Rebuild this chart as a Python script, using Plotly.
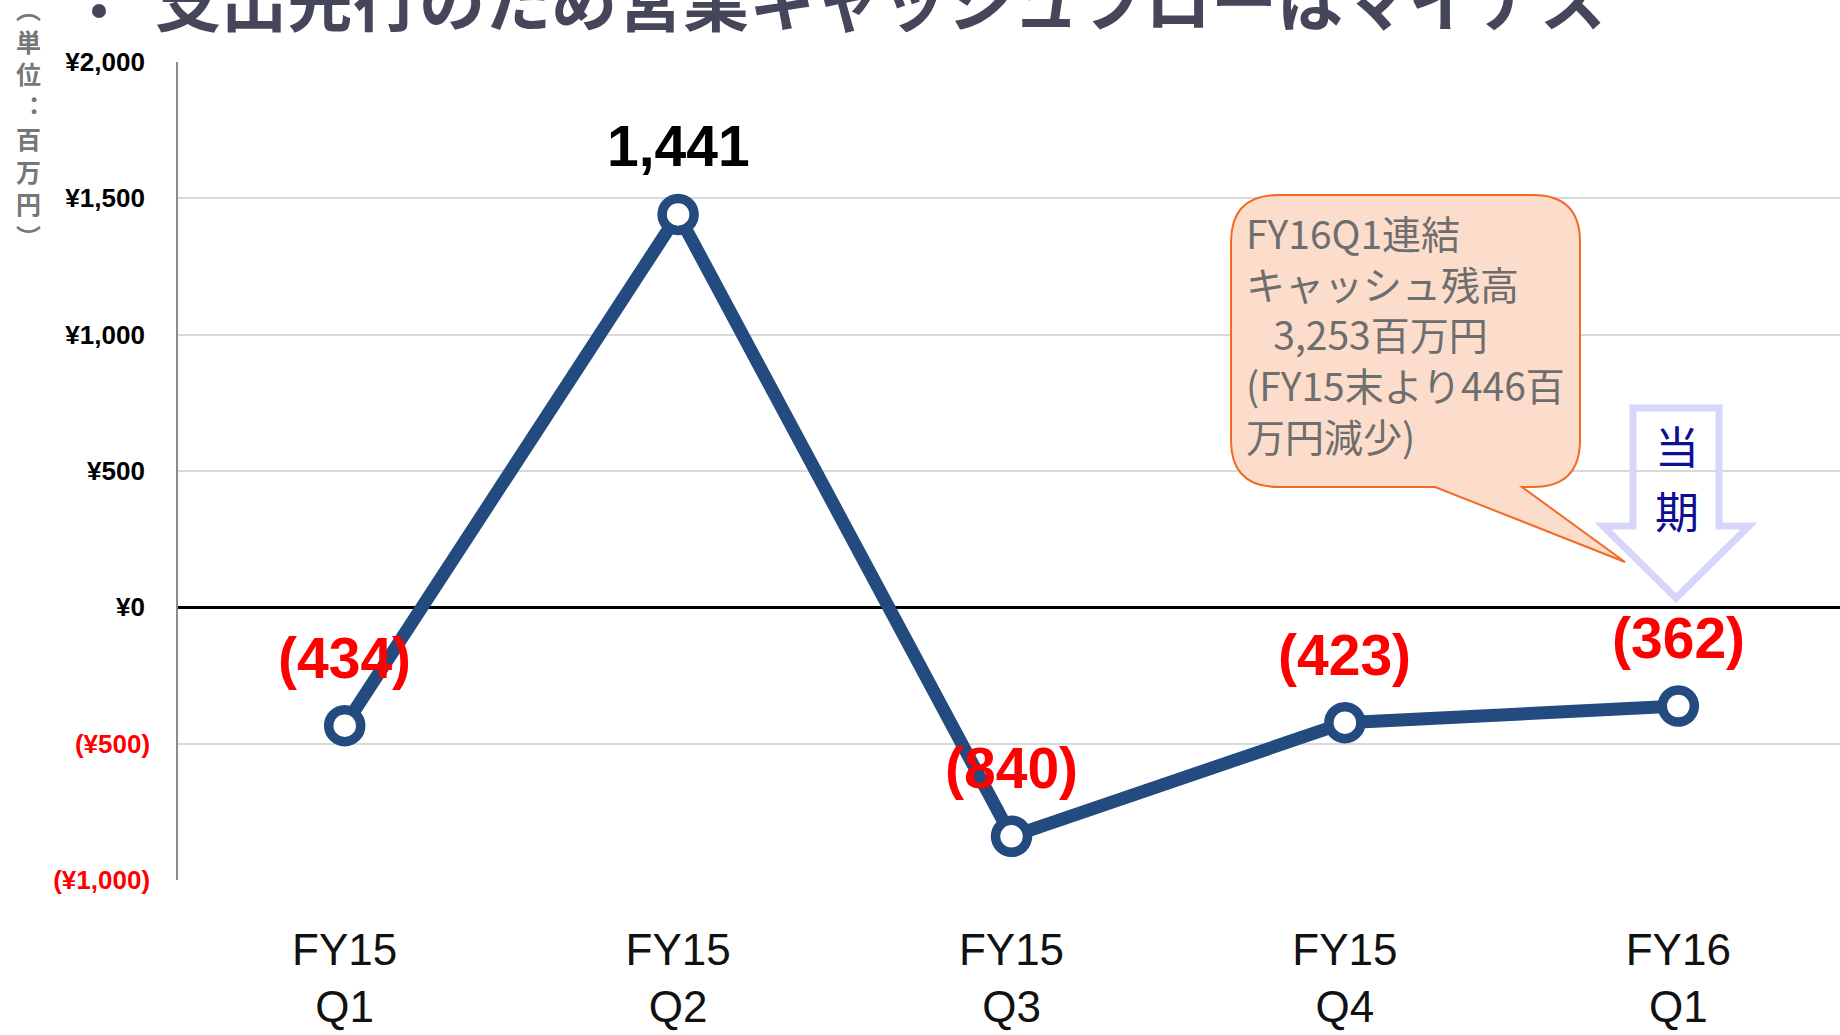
import plotly.graph_objects as go

# ---------------- data ----------------
categories = ["FY15<br>Q1", "FY15<br>Q2", "FY15<br>Q3", "FY15<br>Q4", "FY16<br>Q1"]
cash_flow = [-434, 1441, -840, -423, -362]          # 営業キャッシュフロー（百万円）
y_tick_vals = [-1000, -500, 0, 500, 1000, 1500, 2000]
title_text = "支出先行のため営業キャッシュフローはマイナス"
unit_label = ["︵", "単", "位", "︓", "百", "万", "円", "︶"]
callout_lines = ["FY16Q1連結", "キャッシュ残高", "\u2002\u20093,253百万円", "(FY15末より446百", "万円減少)"]
current_label = ["当", "期"]

# ---------------- layout constants ----------------
W, H = 1840, 1035
ML, MR, MT, MB = 178, 0, 62, 155
PW, PH = W - ML - MR, H - MT - MB

def px(x):
    return (x - ML) / PW

def py(y):
    return (H - MB - y) / PH

BLUE = "#234b80"
RED = "#FF0000"
JP = "Noto Sans CJK JP"

def yen(v):
    s = "¥{:,}".format(abs(v))
    if v < 0:
        return '<span style="color:%s">(%s)</span>' % (RED, s)
    return s + "\u2009"

fig = go.Figure()
fig.add_trace(go.Scatter(
    x=categories, y=cash_flow, mode="lines+markers",
    line=dict(color=BLUE, width=13),
    marker=dict(size=32, color="white", line=dict(color=BLUE, width=9.5)),
    hoverinfo="skip", showlegend=False,
))

annotations = []
for c, v in zip(categories, cash_flow):
    txt = "{:,}".format(v) if v >= 0 else "({:,})".format(-v)
    annotations.append(dict(
        x=c, y=v, xref="x", yref="y", yshift=68, showarrow=False,
        text="<b>%s</b>" % txt,
        font=dict(family="Liberation Sans, Arial", size=57, color="black" if v >= 0 else RED),
        xanchor="center", yanchor="middle",
    ))

# title (cut at top of page)
annotations.append(dict(
    x=px(153), y=py(-3), xref="paper", yref="paper", showarrow=False,
    text="<b>%s</b>" % title_text, xanchor="left", yanchor="middle",
    font=dict(family=JP, size=66, color="#46465a"),
))

# unit label (vertical)
annotations.append(dict(
    x=px(28), y=py(122), xref="paper", yref="paper", showarrow=False,
    text="<b>%s</b>" % "<br>".join(unit_label), xanchor="center", yanchor="middle",
    font=dict(family=JP, size=25, color="#777777"),
))

# callout text
annotations.append(dict(
    x=px(1244), y=py(202), xref="paper", yref="paper", showarrow=False,
    text="<br>".join(callout_lines), xanchor="left", yanchor="top", align="left",
    font=dict(family=JP, size=39, color="#6e6e6e"),
))

# 当期 arrow text
for t, yy in zip(current_label, [445, 510]):
    annotations.append(dict(
        x=px(1677), y=py(yy), xref="paper", yref="paper", showarrow=False,
        text=t, xanchor="center", yanchor="middle",
        font=dict(family=JP, size=44, color="#0d0d95"),
    ))

# ---------------- shapes ----------------
L, R, T, B, r = 1231, 1580, 195, 487, 47
callout = (
    f"M {px(L+r)},{py(T)} L {px(R-r)},{py(T)} Q {px(R)},{py(T)} {px(R)},{py(T+r)} "
    f"L {px(R)},{py(B-r)} Q {px(R)},{py(B)} {px(R-r)},{py(B)} "
    f"L {px(1522)},{py(B)} L {px(1625)},{py(562)} L {px(1435)},{py(B)} "
    f"L {px(L+r)},{py(B)} Q {px(L)},{py(B)} {px(L)},{py(B-r)} "
    f"L {px(L)},{py(T+r)} Q {px(L)},{py(T)} {px(L+r)},{py(T)} Z"
)
arrow = (
    f"M {px(1633)},{py(408)} L {px(1719)},{py(408)} L {px(1719)},{py(526)} "
    f"L {px(1749)},{py(526)} L {px(1676)},{py(598)} L {px(1603)},{py(526)} "
    f"L {px(1633)},{py(526)} Z"
)
shapes = [
    dict(type="path", path=callout, xref="paper", yref="paper",
         fillcolor="#fcdccb", line=dict(color="#f26a24", width=2), layer="above"),
    dict(type="path", path=arrow, xref="paper", yref="paper",
         fillcolor="rgba(0,0,0,0)", line=dict(color="#d6d6fb", width=7), layer="above"),
    dict(type="circle", xref="paper", yref="paper",
         x0=px(92), x1=px(106), y0=py(18), y1=py(4),
         fillcolor="#46465a", line=dict(width=0)),
]

fig.update_layout(
    width=W, height=H,
    margin=dict(l=ML, r=MR, t=MT, b=MB, pad=0),
    paper_bgcolor="white", plot_bgcolor="white",
    font=dict(family="Liberation Sans, Arial", color="black"),
    xaxis=dict(
        type="category", range=[-0.5, 4.485], showgrid=False, zeroline=False,
        showline=False, ticks="", ticklabelstandoff=40,
        tickfont=dict(size=44, color="#111111"),
    ),
    yaxis=dict(
        range=[-1000, 2000], tickvals=y_tick_vals,
        ticktext=["<b>%s</b>" % yen(v) for v in y_tick_vals],
        tickfont=dict(size=26, color="black"),
        showgrid=True, gridcolor="#d9d9d9", gridwidth=1.5,
        zeroline=True, zerolinecolor="black", zerolinewidth=3,
        showline=True, linecolor="#8c8c8c", linewidth=1.5,
        ticks="", ticklabelstandoff=21,
    ),
    annotations=annotations,
    shapes=shapes,
)

fig.write_html("out.html", config={"displayModeBar": False},
               post_script="document.body.style.margin='0';document.body.style.overflow='hidden';")
